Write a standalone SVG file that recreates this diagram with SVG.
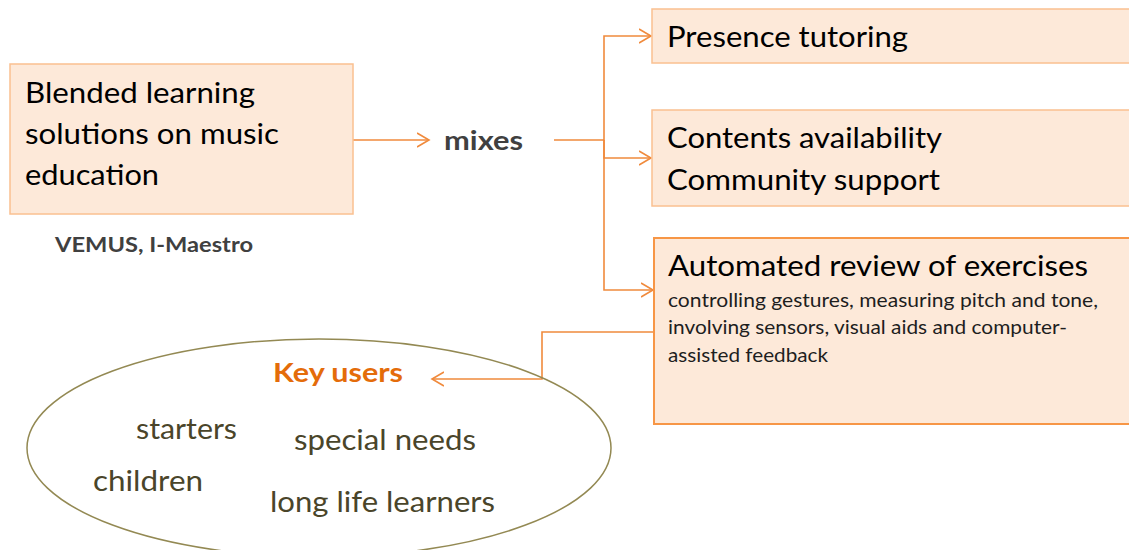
<svg xmlns="http://www.w3.org/2000/svg" width="1129" height="550" viewBox="0 0 1129 550">
<defs>
<style>
.box{fill:#fde9d9;stroke:#fac090;stroke-width:1.5}
.box2{fill:#fde9d9;stroke:#f79646;stroke-width:2}
.t{font-family:Lato,"Open Sans","Liberation Sans",sans-serif;fill:#000}
.big{font-size:29px}
.med{font-size:28px}
.sm{font-size:19px;fill:#1e1e1e}
.b{font-weight:bold}
.grey{fill:#404040}
.key{fill:#e46c0a}
.ol{fill:#4a452a;font-size:28px}
.c{fill:none;stroke:#f08a3c;stroke-width:1.6}
</style>
<marker id="ah" markerWidth="14" markerHeight="16" refX="12" refY="8" orient="auto" markerUnits="userSpaceOnUse">
<path d="M0,1 L12,8 L0,15" fill="none" stroke="#f08a3c" stroke-width="1.6"/>
</marker>
</defs>
<rect width="1129" height="550" fill="#fff"/>
<g id="connectors">
<line class="c" x1="353" y1="140" x2="429" y2="140" marker-end="url(#ah)"/>
<polyline class="c" points="554,140 604,140 604,36 651,36" marker-end="url(#ah)"/>
<polyline class="c" points="604,140 604,158 651,158" marker-end="url(#ah)"/>
<polyline class="c" points="604,140 604,290 653,290" marker-end="url(#ah)"/>
<polyline class="c" points="654,332 542,332 542,379 432,379" marker-end="url(#ah)"/>
</g>
<g id="node-blended">
<rect class="box" x="10" y="64" width="343" height="150"/>
<text class="t big" x="25" y="103" textLength="230" lengthAdjust="spacingAndGlyphs">Blended learning</text>
<text class="t big" x="25" y="144" textLength="254" lengthAdjust="spacingAndGlyphs">solutions on music</text>
<text class="t big" x="25" y="185" textLength="134" lengthAdjust="spacingAndGlyphs">education</text>
</g>
<g id="label-vemus">
<text class="t b grey" x="55" y="252" font-size="20" textLength="198" lengthAdjust="spacingAndGlyphs">VEMUS, I-Maestro</text>
</g>
<g id="node-mixes">
<text class="t b grey" x="444" y="150" font-size="26" textLength="79" lengthAdjust="spacingAndGlyphs">mixes</text>
</g>
<g id="node-presence">
<rect class="box" x="652" y="9" width="490" height="54"/>
<text class="t med" x="667" y="47" textLength="241" lengthAdjust="spacingAndGlyphs">Presence tutoring</text>
</g>
<g id="node-contents">
<rect class="box" x="652" y="110" width="490" height="96"/>
<text class="t med" x="667" y="148" textLength="275" lengthAdjust="spacingAndGlyphs">Contents availability</text>
<text class="t med" x="667" y="190" textLength="273" lengthAdjust="spacingAndGlyphs">Community support</text>
</g>
<g id="node-automated">
<rect class="box2" x="654" y="238" width="490" height="186"/>
<text class="t med" x="668" y="276" textLength="420" lengthAdjust="spacingAndGlyphs">Automated review of exercises</text>
<text class="t sm" x="668" y="307" textLength="430" lengthAdjust="spacingAndGlyphs">controlling gestures, measuring pitch and tone,</text>
<text class="t sm" x="668" y="334" textLength="399" lengthAdjust="spacingAndGlyphs">involving sensors, visual aids and computer-</text>
<text class="t sm" x="668" y="362" textLength="160" lengthAdjust="spacingAndGlyphs">assisted feedback</text>
</g>
<g id="node-keyusers">
<ellipse cx="319" cy="448" rx="292" ry="109" fill="none" stroke="#938953" stroke-width="1.5"/>
<text class="t b key" x="273" y="382" font-size="27" textLength="130" lengthAdjust="spacingAndGlyphs">Key users</text>
<text class="t ol" x="136" y="439" textLength="101" lengthAdjust="spacingAndGlyphs">starters</text>
<text class="t ol" x="294" y="450" textLength="182" lengthAdjust="spacingAndGlyphs">special needs</text>
<text class="t ol" x="93" y="491" textLength="110" lengthAdjust="spacingAndGlyphs">children</text>
<text class="t ol" x="270" y="512" textLength="225" lengthAdjust="spacingAndGlyphs">long life learners</text>
</g>
</svg>
